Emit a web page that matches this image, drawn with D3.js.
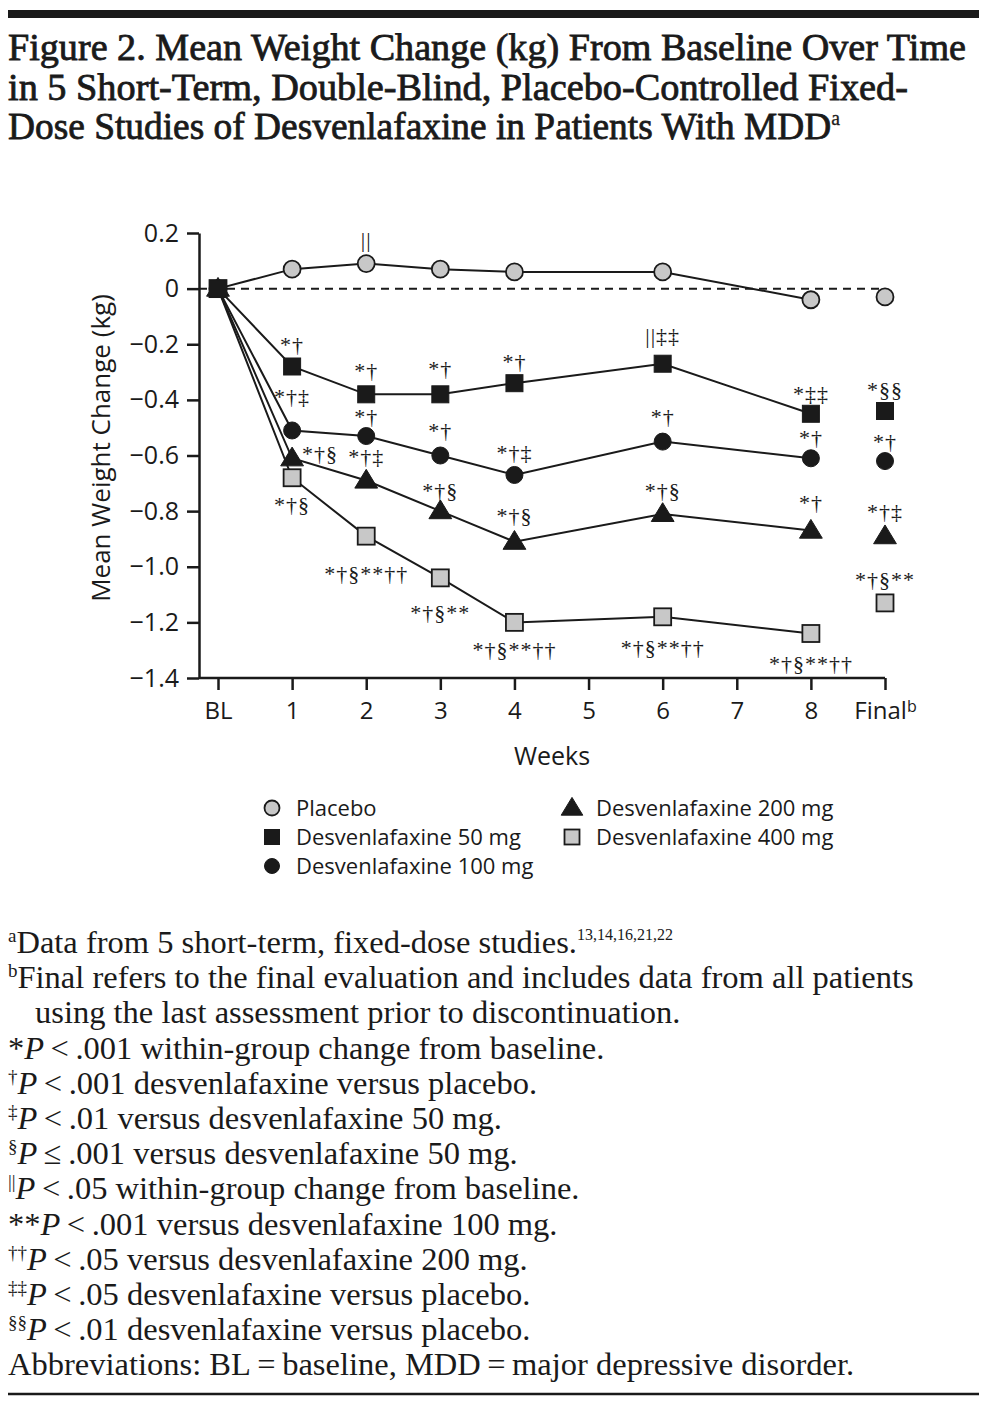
<!DOCTYPE html>
<html>
<head>
<meta charset="utf-8">
<script src="https://cdn.jsdelivr.net/npm/d3@7"></script>
<style>
body { margin: 0; background: #fff; }
</style>
</head>
<body>
<script>
const weeks = ['BL', '1', '2', '3', '4', '5', '6', '7', '8', 'Final']
const yTicks = [0.2, 0, -0.2, -0.4, -0.6, -0.8, -1.0, -1.2, -1.4]

// mean weight change (kg), null = no visit that week
const placebo = [0, 0.07, 0.09, 0.07, 0.06, null, 0.06, null, -0.04, -0.03]
const dvs50   = [0, -0.28, -0.38, -0.38, -0.34, null, -0.27, null, -0.45, -0.44]
const dvs100  = [0, -0.51, -0.53, -0.60, -0.67, null, -0.55, null, -0.61, -0.62]
const dvs200  = [0, -0.61, -0.69, -0.80, -0.91, null, -0.81, null, -0.87, -0.89]
const dvs400  = [0, -0.68, -0.89, -1.04, -1.20, null, -1.18, null, -1.24, -1.13]

const seriesNames = ['Placebo', 'Desvenlafaxine 50 mg', 'Desvenlafaxine 100 mg', 'Desvenlafaxine 200 mg', 'Desvenlafaxine 400 mg']

// significance marks per visit ('||' stands for the double bar mark)
const placeboSig = ['', '', '||', '', '', '', '', '', '', '']
const dvs50Sig   = ['', '*†', '*†', '*†', '*†', '', '||‡‡', '', '*‡‡', '*§§']
const dvs100Sig  = ['', '*†‡', '*†', '*†', '*†‡', '', '*†', '', '*†', '*†']
const dvs200Sig  = ['', '*†§', '*†‡', '*†§', '*†§', '', '*†§', '', '*†', '*†‡']
const dvs400Sig  = ['', '*†§', '*†§**††', '*†§**', '*†§**††', '', '*†§**††', '', '*†§**††', '*†§**']

// where each mark sits relative to its point [dx, dy]
const placeboSigPos = [null, null, [0, -24]]
const dvs50SigPos  = [null, [0, -22], [0, -24], [0, -26], [0, -22], null, [0, -28], null, [0, -20], [0, -22]]
const dvs100SigPos = [null, [0, -34], [0, -20], [0, -25], [0, -23], null, [0, -25], null, [0, -21], [0, -20]]
const dvs200SigPos = [null, [28, -5], [0, -24], [0, -21], [0, -26], null, [0, -24], null, [0, -28], [0, -25]]
const dvs400SigPos = [null, [0, 27], [0, 37], [0, 34], [0, 27], null, [0, 30], null, [0, 30], [0, -24]]

const gray = '#c8c8c8'
const ink = '#1a1a1a'
const sans = '"Open Sans", "Noto Sans", sans-serif'
const serif = '"Liberation Serif", "Times New Roman", serif'

const series = [
    {name: seriesNames[0], values: placebo, sig: placeboSig, sigPos: placeboSigPos, shape: 'circle', fill: gray},
    {name: seriesNames[4], values: dvs400, sig: dvs400Sig, sigPos: dvs400SigPos, shape: 'square', fill: gray},
    {name: seriesNames[3], values: dvs200, sig: dvs200Sig, sigPos: dvs200SigPos, shape: 'triangle', fill: ink},
    {name: seriesNames[2], values: dvs100, sig: dvs100Sig, sigPos: dvs100SigPos, shape: 'circle', fill: ink},
    {name: seriesNames[1], values: dvs50, sig: dvs50Sig, sigPos: dvs50SigPos, shape: 'square', fill: ink}
]

const svg = d3.select('body').append('svg')
    .attr('width', 989)
    .attr('height', 1405)

svg.append('rect')
    .attr('x', 8).attr('y', 10)
    .attr('width', 971).attr('height', 8)
    .attr('fill', ink)

const titleLines = [
    ['Figure 2. Mean Weight Change (kg) From Baseline Over Time', 958],
    ['in 5 Short-Term, Double-Blind, Placebo-Controlled Fixed-', 900],
    ['Dose Studies of Desvenlafaxine in Patients With MDD', 832]
]
titleLines.forEach((l, i) => {
    const t = svg.append('text')
        .attr('x', 8)
        .attr('y', 60 + i * 39.5)
        .attr('font-family', serif)
        .attr('font-size', 38)
        .attr('fill', ink)
        .attr('stroke', ink)
        .attr('stroke-width', 0.8)
        .attr('textLength', l[1])
        .attr('lengthAdjust', 'spacingAndGlyphs')
        .text(l[0])
    if (i === 2) {
        t.append('tspan')
            .attr('dy', -14)
            .attr('font-size', 20)
            .attr('stroke-width', 0.3)
            .text('a')
    }
})

// chart
const axisX = 199
const x = d3.scalePoint().domain(weeks).range([218, 885])
const y = d3.scaleLinear().domain([-1.4, 0.2]).range([678, 233])

const yAxis = svg.append('g')
    .attr('transform', `translate(${axisX},0)`)
    .call(d3.axisLeft(y)
        .tickValues(yTicks)
        .tickSize(12)
        .tickSizeOuter(0)
        .tickPadding(8)
        .tickFormat(d => d === 0 ? '0' : d3.format('.1f')(d)))
yAxis.selectAll('text')
    .attr('font-family', sans)
    .attr('font-size', 25)
    .attr('fill', ink)
yAxis.selectAll('line, path')
    .attr('stroke', ink)
    .attr('stroke-width', 2.5)

const xAxis = svg.append('g')
    .attr('transform', `translate(0,${y(-1.4)})`)
    .call(d3.axisBottom(x)
        .tickSize(12)
        .tickSizeOuter(0)
        .tickPadding(12))
xAxis.select('.domain').remove()
xAxis.selectAll('line')
    .attr('stroke', ink)
    .attr('stroke-width', 2.5)
xAxis.selectAll('text')
    .attr('font-family', sans)
    .attr('font-size', 24)
    .attr('fill', ink)
xAxis.selectAll('.tick text')
    .filter(d => d === 'Final')
    .append('tspan')
    .attr('dy', '-0.45em')
    .attr('font-size', 16)
    .text('b')
xAxis.append('line')
    .attr('x1', axisX).attr('x2', x('Final'))
    .attr('y1', 0).attr('y2', 0)
    .attr('stroke', ink)
    .attr('stroke-width', 2.5)

svg.append('text')
    .attr('x', 552).attr('y', 765)
    .attr('text-anchor', 'middle')
    .attr('font-family', sans)
    .attr('font-size', 25)
    .attr('fill', ink)
    .text('Weeks')

svg.append('text')
    .attr('transform', 'translate(110,448) rotate(-90)')
    .attr('text-anchor', 'middle')
    .attr('font-family', sans)
    .attr('font-size', 26)
    .attr('fill', ink)
    .text('Mean Weight Change (kg)')

svg.append('line')
    .attr('x1', axisX).attr('x2', x('Final'))
    .attr('y1', y(0)).attr('y2', y(0))
    .attr('stroke', ink)
    .attr('stroke-width', 2)
    .attr('stroke-dasharray', '8,6')

const line = d3.line()
    .x(d => x(d.week))
    .y(d => y(d.value))

const points = s => weeks.map((w, i) => ({week: w, value: s.values[i], i: i}))
    .filter(d => d.value !== null)

series.forEach(s => {
    svg.append('path')
        .datum(points(s).filter(d => d.week !== 'Final'))
        .attr('d', line)
        .attr('fill', 'none')
        .attr('stroke', ink)
        .attr('stroke-width', 2)
})

function marker(g, shape, fill, size) {
    let m
    if (shape === 'circle') {
        m = g.append('circle').attr('r', size / 2)
    } else if (shape === 'square') {
        m = g.append('rect')
            .attr('x', -size / 2).attr('y', -size / 2)
            .attr('width', size).attr('height', size)
    } else {
        const h = size * 0.95
        m = g.append('path')
            .attr('d', 'M 0 ' + (-h * 0.62) + ' L ' + (size * 0.6) + ' ' + (h * 0.42) + ' L ' + (-size * 0.6) + ' ' + (h * 0.42) + ' Z')
    }
    m.attr('fill', fill)
        .attr('stroke', ink)
        .attr('stroke-width', fill === gray ? 1.8 : 1)
}

series.forEach(s => {
    points(s).forEach(d => {
        const g = svg.append('g').attr('transform', `translate(${x(d.week)},${y(d.value)})`)
        marker(g, s.shape, s.fill, s.shape === 'triangle' ? 19 : 17)
    })
})

series.forEach(s => {
    s.sig.forEach((t, i) => {
        if (!t) return
        const p = s.sigPos[i]
        svg.append('text')
            .attr('x', x(weeks[i]) + p[0])
            .attr('y', y(s.values[i]) + p[1])
            .attr('dy', '0.35em')
            .attr('text-anchor', 'middle')
            .attr('font-family', serif)
            .attr('font-size', 22)
            .attr('letter-spacing', 1)
            .attr('fill', ink)
            .text(t)
    })
})

// legend
const legendItems = [
    [seriesNames[0], 'circle', gray, 272, 808],
    [seriesNames[1], 'square', ink, 272, 837],
    [seriesNames[2], 'circle', ink, 272, 866],
    [seriesNames[3], 'triangle', ink, 572, 808],
    [seriesNames[4], 'square', gray, 572, 837]
]
legendItems.forEach(l => {
    const g = svg.append('g').attr('transform', `translate(${l[3]},${l[4]})`)
    marker(g, l[1], l[2], l[1] === 'triangle' ? 18 : 15)
    g.append('text')
        .attr('x', 24)
        .attr('dy', '0.36em')
        .attr('font-family', sans)
        .attr('font-size', 22)
        .attr('fill', ink)
        .text(l[0])
})

// footnotes
const thin = '\u2009'
const notes = [
    [['a', 'sup'], ['Data from 5 short-term, fixed-dose studies.'], ['13,14,16,21,22', 'ref']],
    [['b', 'sup'], ['Final refers to the final evaluation and includes data from all patients']],
    [['using the last assessment prior to discontinuation.', 'indent']],
    [['*'], ['P', 'it'], [thin + '<' + thin + '.001 within-group change from baseline.']],
    [['†', 'sup'], ['P', 'it'], [thin + '<' + thin + '.001 desvenlafaxine versus placebo.']],
    [['‡', 'sup'], ['P', 'it'], [thin + '<' + thin + '.01 versus desvenlafaxine 50 mg.']],
    [['§', 'sup'], ['P', 'it'], [thin + '≤' + thin + '.001 versus desvenlafaxine 50 mg.']],
    [['||', 'sup'], ['P', 'it'], [thin + '<' + thin + '.05 within-group change from baseline.']],
    [['**'], ['P', 'it'], [thin + '<' + thin + '.001 versus desvenlafaxine 100 mg.']],
    [['††', 'sup'], ['P', 'it'], [thin + '<' + thin + '.05 versus desvenlafaxine 200 mg.']],
    [['‡‡', 'sup'], ['P', 'it'], [thin + '<' + thin + '.05 desvenlafaxine versus placebo.']],
    [['§§', 'sup'], ['P', 'it'], [thin + '<' + thin + '.01 desvenlafaxine versus placebo.']],
    [['Abbreviations: BL' + thin + '=' + thin + 'baseline, MDD' + thin + '=' + thin + 'major depressive disorder.']]
]
notes.forEach((segs, i) => {
    const t = svg.append('text')
        .attr('x', segs[0][1] === 'indent' ? 35 : 8)
        .attr('y', 953 + i * 35.2)
        .attr('font-family', serif)
        .attr('font-size', 32.5)
        .attr('fill', ink)
    let shift = 0
    segs.forEach(sg => {
        const kind = sg[1]
        const up = kind === 'sup' ? -11 : kind === 'ref' ? -13 : 0
        const ts = t.append('tspan')
            .attr('dy', up - shift)
            .text(sg[0])
        shift = up
        if (kind === 'sup') ts.attr('font-size', 19)
        if (kind === 'ref') ts.attr('font-size', 16)
        if (kind === 'it') ts.attr('font-style', 'italic')
    })
})

svg.append('line')
    .attr('x1', 8).attr('x2', 979)
    .attr('y1', 1394).attr('y2', 1394)
    .attr('stroke', ink)
    .attr('stroke-width', 2.5)
</script>
</body>
</html>
